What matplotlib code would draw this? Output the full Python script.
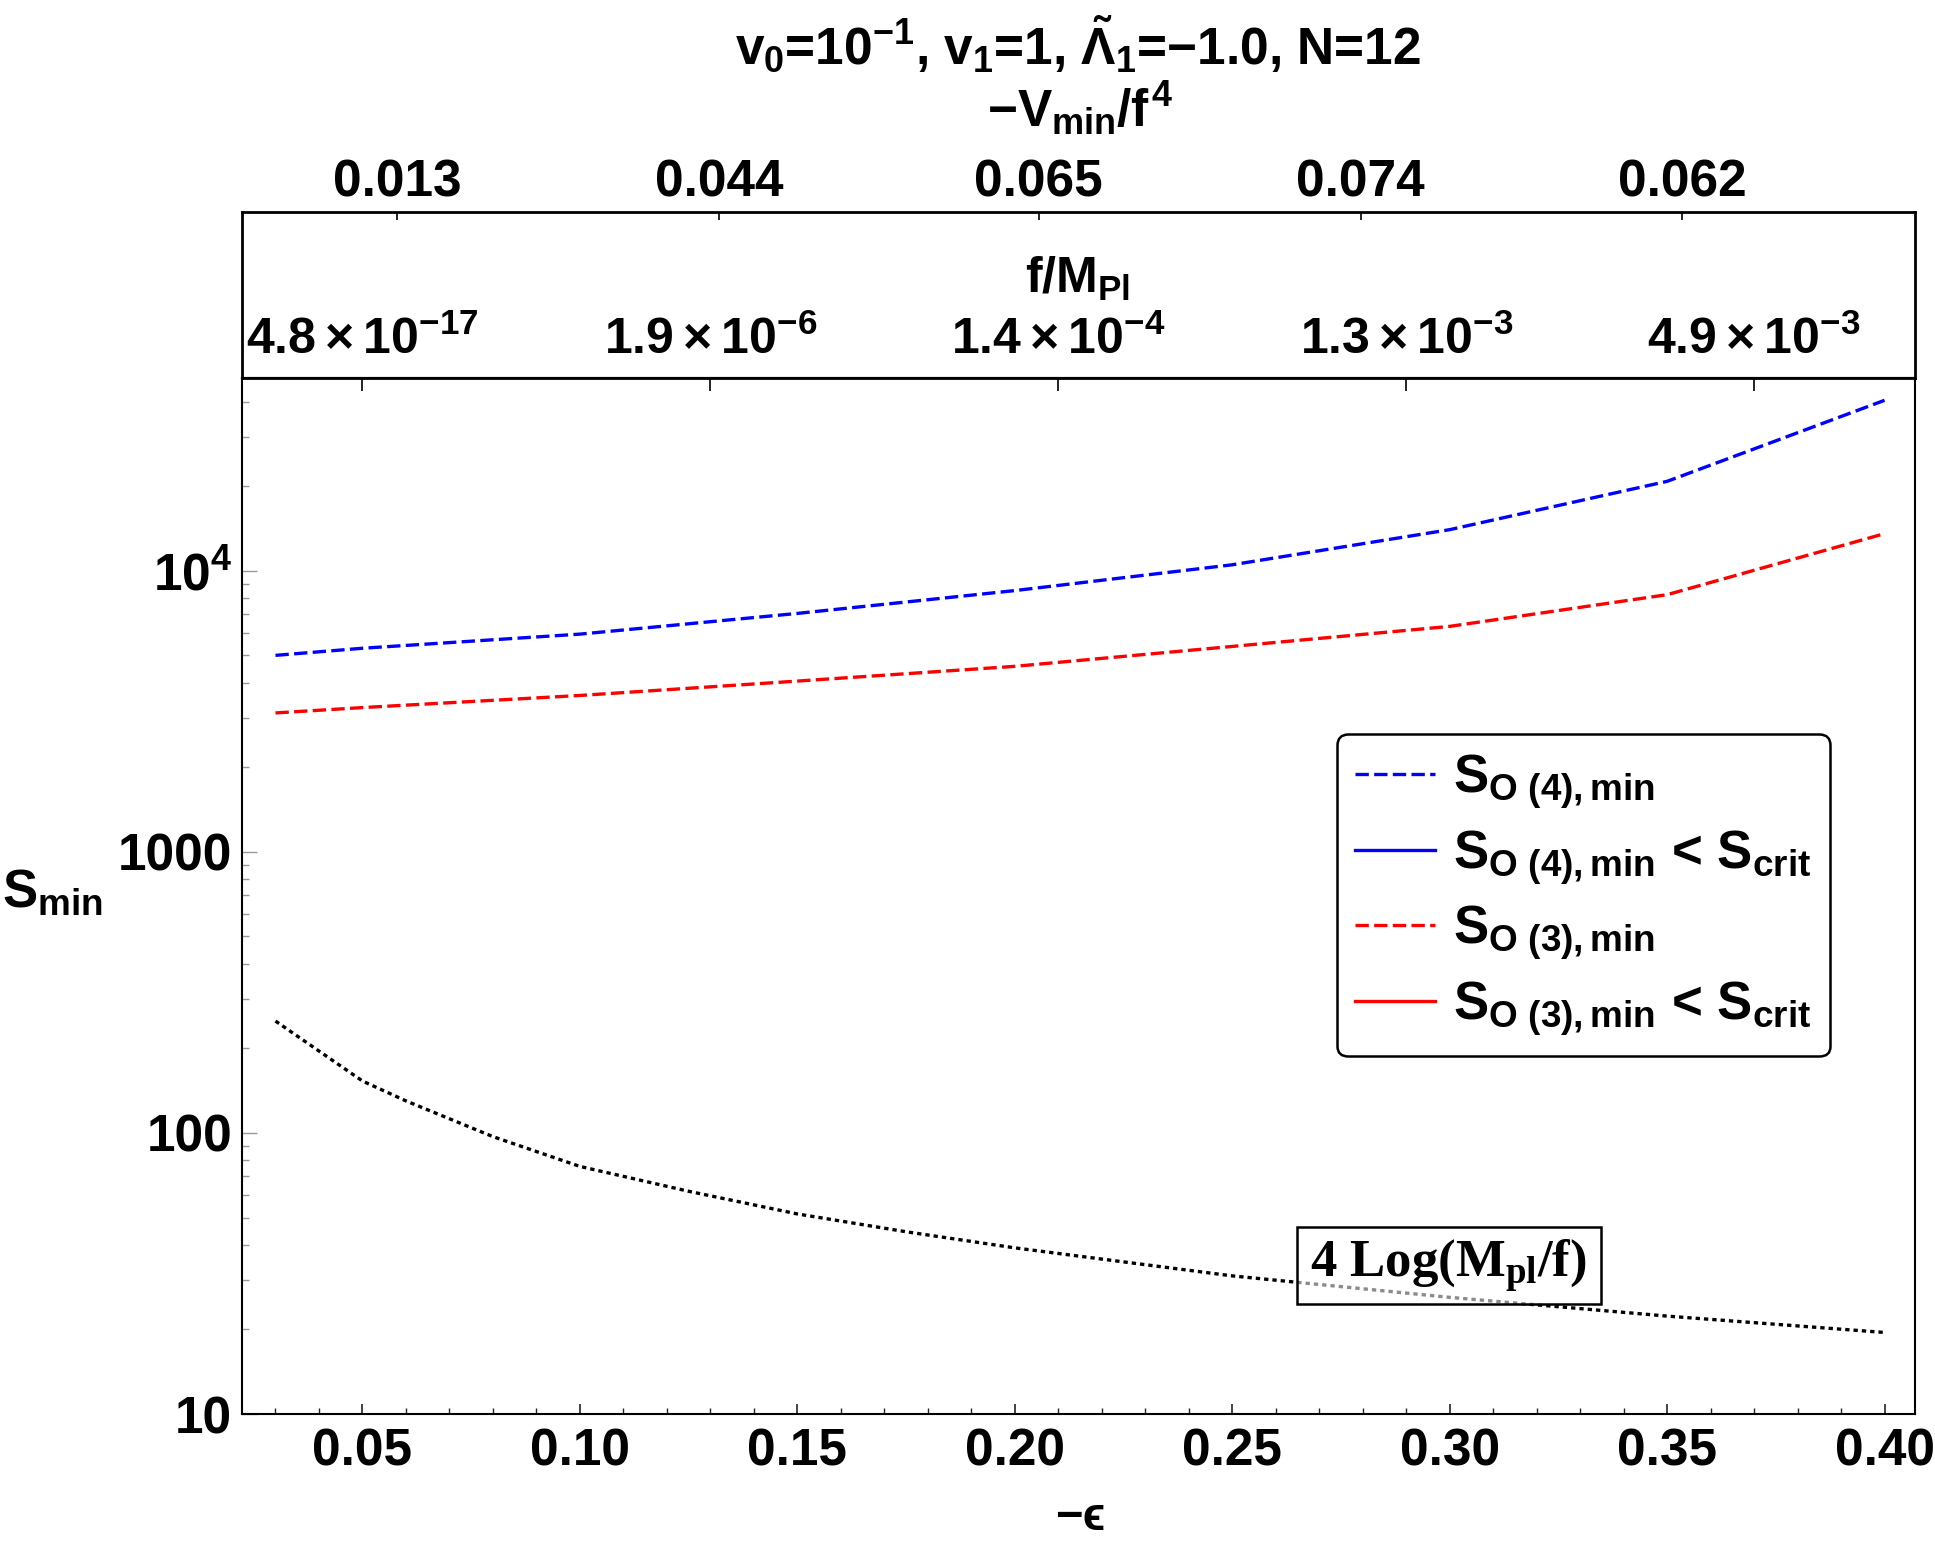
import matplotlib
matplotlib.use('Agg')
import matplotlib.pyplot as plt
from matplotlib.lines import Line2D
from matplotlib.patches import Rectangle
from matplotlib.ticker import MultipleLocator, LogLocator, NullFormatter

# ---------------- data ----------------
eps = [0.03, 0.05, 0.10, 0.15, 0.20, 0.25, 0.30, 0.35, 0.40]
s_o4 = [5000, 5300, 5950, 7050, 8500, 10500, 14000, 20800, 40400]
s_o3 = [3120, 3260, 3600, 4050, 4570, 5380, 6340, 8220, 13550]

eps_log = [0.03, 0.05, 0.06, 0.08, 0.10, 0.125, 0.15, 0.175, 0.20, 0.25, 0.30, 0.35, 0.40]
four_log = [250, 153, 130, 97, 76, 62, 51.5, 44.5, 39.0, 31.0, 26.0, 22.3, 19.5]

x_ticks = [0.05, 0.10, 0.15, 0.20, 0.25, 0.30, 0.35, 0.40]
x_ticklabels = ['0.05', '0.10', '0.15', '0.20', '0.25', '0.30', '0.35', '0.40']
y_ticks = [10, 100, 1000, 10000]
y_ticklabels = ['10', '100', '1000', r'$10^4$']
f_ticks = [0.05, 0.13, 0.21, 0.29, 0.37]
f_ticklabels = [r'$4.8\times10^{-17}$', r'$1.9\times10^{-6}$', r'$1.4\times10^{-4}$',
                r'$1.3\times10^{-3}$', r'$4.9\times10^{-3}$']
v_ticks = [0.058, 0.132, 0.2055, 0.2795, 0.3535]
v_ticklabels = ['0.013', '0.044', '0.065', '0.074', '0.062']

legend_labels = [r'$S_{O\ (4),min}$', r'$S_{O\ (4),min}$ < $S_{crit}$',
                 r'$S_{O\ (3),min}$', r'$S_{O\ (3),min}$ < $S_{crit}$']

# ---------------- style ----------------
plt.rcParams['font.family'] = ['Liberation Sans', 'DejaVu Sans']
plt.rcParams['font.weight'] = 'bold'
plt.rcParams['mathtext.fontset'] = 'custom'
plt.rcParams['mathtext.rm'] = 'Liberation Sans:bold'
plt.rcParams['mathtext.it'] = 'Liberation Sans:bold'
plt.rcParams['mathtext.bf'] = 'Liberation Sans:bold'
plt.rcParams['mathtext.sf'] = 'Liberation Sans:bold'
plt.rcParams['axes.linewidth'] = 1.5

W, H = 1935, 1542
fig = plt.figure(figsize=(W / 100, H / 100), dpi=100)

L, R = 242, 1915
B, T = 1414, 378
TT = 212
ax = fig.add_axes([L / W, (H - B) / H, (R - L) / W, (B - T) / H])
ax.set_yscale('log')
ax.set_xlim(0.0223, 0.4070)
ax.set_ylim(10, 48500)

lw = 2.4
ax.plot(eps, s_o4, color='blue', lw=lw, dashes=(4.0, 1.6))
ax.plot(eps, s_o3, color='red', lw=lw, dashes=(4.0, 1.6))
ax.plot(eps_log, four_log, color='black', lw=2.4, dashes=(1.3, 1.2), dash_capstyle='butt')

# x axis
ax.set_xticks(x_ticks, x_ticklabels)
ax.xaxis.set_minor_locator(MultipleLocator(0.01))
ax.tick_params(axis='x', which='major', direction='in', length=7, width=1.2,
               labelsize=37, pad=10, top=False, color='#222222')
ax.tick_params(axis='x', which='minor', direction='in', length=4.5, width=1.0,
               top=False, color='#222222')

# y axis
ax.set_yticks(y_ticks, y_ticklabels)
ax.yaxis.set_minor_locator(LogLocator(base=10, subs=[2, 3, 4, 5, 6, 7, 8, 9]))
ax.yaxis.set_minor_formatter(NullFormatter())
ax.tick_params(axis='y', which='major', direction='in', length=11, width=1.0,
               labelsize=37, pad=7, right=False, color='#999999')
ax.tick_params(axis='y', which='minor', direction='in', length=5, width=1.0,
               right=False, color='#999999')

# f/M_Pl axis on top of main plot
sec = ax.secondary_xaxis('top')
sec.set_xticks(f_ticks, f_ticklabels)
sec.tick_params(direction='in', length=9, width=1.2, labelsize=36, pad=10)

# upper box with -V_min/f^4 axis
ax2 = fig.add_axes([L / W, (H - T) / H, (R - L) / W, (T - TT) / H])
ax2.set_xlim(0.0223, 0.4070)
ax2.set_yticks([])
ax2.set_facecolor('none')
ax2.xaxis.tick_top()
ax2.set_xticks(v_ticks, v_ticklabels)
ax2.tick_params(axis='x', direction='in', length=6, width=1.2, labelsize=37, pad=3)
ax2.tick_params(axis='x', which='minor', top=False, bottom=False)
for s in ax2.spines.values():
    s.set_linewidth(2.0)

# texts
fig.text(1078 / W, 1 - 45 / H,
         r'$v_0$=10$^{-1}$, $v_1$=1, $\tilde{\Lambda}_1$=$-$1.0, N=12',
         ha='center', va='center', fontsize=37, fontweight='bold')
fig.text(1080 / W, 1 - 109 / H, r'$-V_{min}/f^4$',
         ha='center', va='center', fontsize=37, fontweight='bold')
fig.text(1077 / W, 1 - 279 / H, r'$f/M_{Pl}$',
         ha='center', va='center', fontsize=36, fontweight='bold')
fig.text(1080 / W, 1 - 1518 / H, '\u2212\u03f5',
         ha='center', va='center', fontsize=34, fontweight='bold',
         family=['Liberation Sans', 'DejaVu Sans'])
fig.text(52 / W, 1 - 893 / H, r'$S_{min}$',
         ha='center', va='center', fontsize=38, fontweight='bold')

# 4 Log box
ax.add_patch(Rectangle((0.2649, 24.6), 0.0699, 21.6, facecolor=(1, 1, 1, 0.55),
                       edgecolor='black', lw=1.8, zorder=5))
ax.text(0.2998, 33.8, r'4 Log(M$\mathregular{_{pl}}$/f)', ha='center', va='center',
        fontsize=38, fontweight='bold', family='Liberation Serif', zorder=6)

# legend
handles = [Line2D([], [], color='blue', lw=lw, dashes=(4.0, 1.6)),
           Line2D([], [], color='blue', lw=lw),
           Line2D([], [], color='red', lw=lw, dashes=(4.0, 1.6)),
           Line2D([], [], color='red', lw=lw)]
leg = fig.legend(handles, legend_labels, loc='upper left',
                 bbox_to_anchor=(1337 / W, 1 - 734 / H), borderaxespad=0,
                 fontsize=38, frameon=True, fancybox=True, edgecolor='black',
                 framealpha=1, handlelength=1.5, handletextpad=0.35,
                 labelspacing=0.32, borderpad=0.35)
leg.get_frame().set_linewidth(1.8)

fig.savefig('out.png', dpi=100)
